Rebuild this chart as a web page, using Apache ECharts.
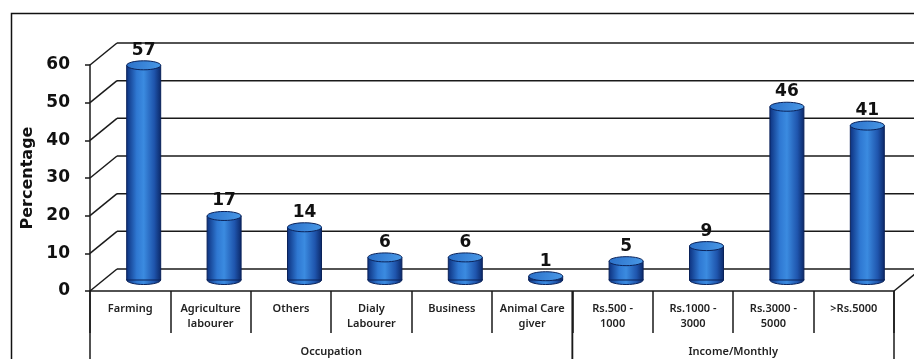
<!DOCTYPE html>
<html>
<head>
    <meta charset="utf-8">
    <title>Occupation and income</title>
    <script src="https://cdn.jsdelivr.net/npm/echarts@6/dist/echarts.min.js"></script>
    <style>
        html, body { margin: 0; padding: 0; background: #fff; }
    </style>
</head>
<body>
    <div id="main" style="width: 914px;height:359px;"></div>
    <script type="text/javascript">
        // data
        const categories = ['Farming', 'Agriculture\nlabourer', 'Others', 'Dialy\nLabourer', 'Business',
            'Animal Care\ngiver', 'Rs.500 -\n1000', 'Rs.1000 -\n3000', 'Rs.3000 -\n5000', '>Rs.5000'];
        const values = [57, 17, 14, 6, 6, 1, 5, 9, 46, 41];
        const yTicks = [0, 10, 20, 30, 40, 50, 60];
        const groupNames = ['Occupation', 'Income/Monthly'];
        const groupFrom = [0, 6];
        const groupTo = [5, 9];

        // 3d depth of the back wall
        const DX = 27, DY = -22;

        let myChart = echarts.init(document.getElementById('main'));

        // wall: diagonals from the front axis and the back gridlines
        function renderWall(params, api) {
            let v = api.value(1);
            let bw = api.size([1, 0])[0];
            let p = api.coord([0, v]);
            let q = api.coord([categories.length - 1, v]);
            let x0 = p[0] - bw / 2, x1 = q[0] + bw / 2, y = p[1];
            let st = { stroke: '#1a1a1a', lineWidth: 1.5 };
            let children = [
                { type: 'line', shape: { x1: x0, y1: y, x2: x0 + DX, y2: y + DY }, style: st },
                { type: 'line', shape: { x1: x0 + DX, y1: y + DY, x2: x1 + DX + 60, y2: y + DY }, style: st }
            ];
            if (v === 0) {
                children.push({ type: 'line', shape: { x1: x1, y1: y, x2: x1 + DX, y2: y + DY }, style: st });
            }
            return { type: 'group', children: children };
        }

        // cylinders sit half way into the depth
        function renderBar(params, api) {
            let c = api.coord([api.value(0), api.value(1)]);
            let b = api.coord([api.value(0), 0]);
            let cx = c[0] + DX / 2;
            let top = c[1] + DY / 2;
            let bottom = b[1] + DY / 2;
            let w = 34, rx = w / 2, ry = 4.5;
            let body = new echarts.graphic.LinearGradient(0, 0, 1, 0, [
                { offset: 0, color: '#0c2f7c' },
                { offset: 0.3, color: '#2f78d2' },
                { offset: 0.5, color: '#3b8be0' },
                { offset: 0.8, color: '#1f55ad' },
                { offset: 1, color: '#0b2766' }
            ]);
            let cap = new echarts.graphic.LinearGradient(0, 0, 1, 1, [
                { offset: 0, color: '#2a6fc8' },
                { offset: 1, color: '#4a9ae8' }
            ]);
            return {
                type: 'group',
                children: [
                    { type: 'ellipse', shape: { cx: cx, cy: bottom, rx: rx, ry: ry },
                      style: { fill: body, stroke: '#0a2259', lineWidth: 1 } },
                    { type: 'rect', shape: { x: cx - rx, y: top, width: w, height: Math.max(bottom - top, 0) },
                      style: { fill: body, stroke: '#0a2259', lineWidth: 1 } },
                    { type: 'ellipse', shape: { cx: cx, cy: top, rx: rx, ry: ry },
                      style: { fill: cap, stroke: '#0a2259', lineWidth: 1 } },
                    { type: 'text', x: cx, y: top - ry - 2,
                      style: { text: String(api.value(1)), align: 'center', verticalAlign: 'bottom',
                               font: 'bold 17px "DejaVu Sans"', fill: '#111' } }
                ]
            };
        }

        // group row under the categories
        function renderGroup(params, api) {
            let i = params.dataIndex;
            let bw = api.size([1, 0])[0];
            let a = api.coord([groupFrom[i], 0]);
            let z = api.coord([groupTo[i], 0]);
            let x0 = a[0] - bw / 2, x1 = z[0] + bw / 2, y = a[1];
            let st = { stroke: '#1a1a1a', lineWidth: 1.5 };
            return {
                type: 'group',
                children: [
                    { type: 'line', shape: { x1: x0, y1: y, x2: x0, y2: y + 80 }, style: st },
                    { type: 'line', shape: { x1: x1, y1: y, x2: x1, y2: y + 80 }, style: st },
                    { type: 'text', x: (x0 + x1) / 2, y: y + 61,
                      style: { text: groupNames[i], align: 'center', verticalAlign: 'middle',
                               font: '600 11px "Noto Sans"', fill: '#222' } }
                ]
            };
        }

        let option = {
            animation: false,
            graphic: [{
                type: 'rect', left: 9, top: 11, z: -10,
                shape: { width: 960, height: 400 },
                style: { fill: 'none', stroke: '#111', lineWidth: 1.5 }
            }],
            grid: { left: 90, right: 20, top: 65, bottom: 68 },
            xAxis: {
                type: 'category',
                data: categories,
                axisLine: { lineStyle: { color: '#1a1a1a', width: 1.5 } },
                axisTick: { show: true, interval: 0, length: 42, lineStyle: { color: '#1a1a1a', width: 1.5 } },
                axisLabel: {
                    interval: 0, margin: 10, lineHeight: 15,
                    fontFamily: 'Noto Sans', fontSize: 11, fontWeight: 600, color: '#222'
                },
                splitLine: { show: false }
            },
            yAxis: {
                type: 'value',
                min: 0, max: 60, interval: 10,
                name: 'Percentage',
                nameLocation: 'middle',
                nameGap: 54,
                nameTextStyle: { fontFamily: 'DejaVu Sans', fontSize: 16, fontWeight: 'bold', color: '#111' },
                axisLine: { show: true, lineStyle: { color: '#1a1a1a', width: 1.5 } },
                axisTick: { show: true, length: 5, lineStyle: { color: '#1a1a1a', width: 1.5 } },
                axisLabel: { margin: 20, fontFamily: 'DejaVu Sans', fontSize: 17, fontWeight: 'bold', color: '#111' },
                splitLine: { show: false }
            },
            series: [
                {
                    type: 'custom', name: 'wall', z: 1, clip: false, silent: true,
                    renderItem: renderWall,
                    data: yTicks.map(function (v) { return [0, v]; })
                },
                {
                    type: 'custom', name: 'bars', z: 5, clip: false,
                    renderItem: renderBar,
                    encode: { x: 0, y: 1 },
                    data: values.map(function (v, i) { return [i, v]; })
                },
                {
                    type: 'custom', name: 'groups', z: 3, clip: false, silent: true,
                    renderItem: renderGroup,
                    data: groupFrom.map(function (f) { return [f, 0]; })
                }
            ]
        };

        myChart.setOption(option);
    </script>
</body>
</html>
